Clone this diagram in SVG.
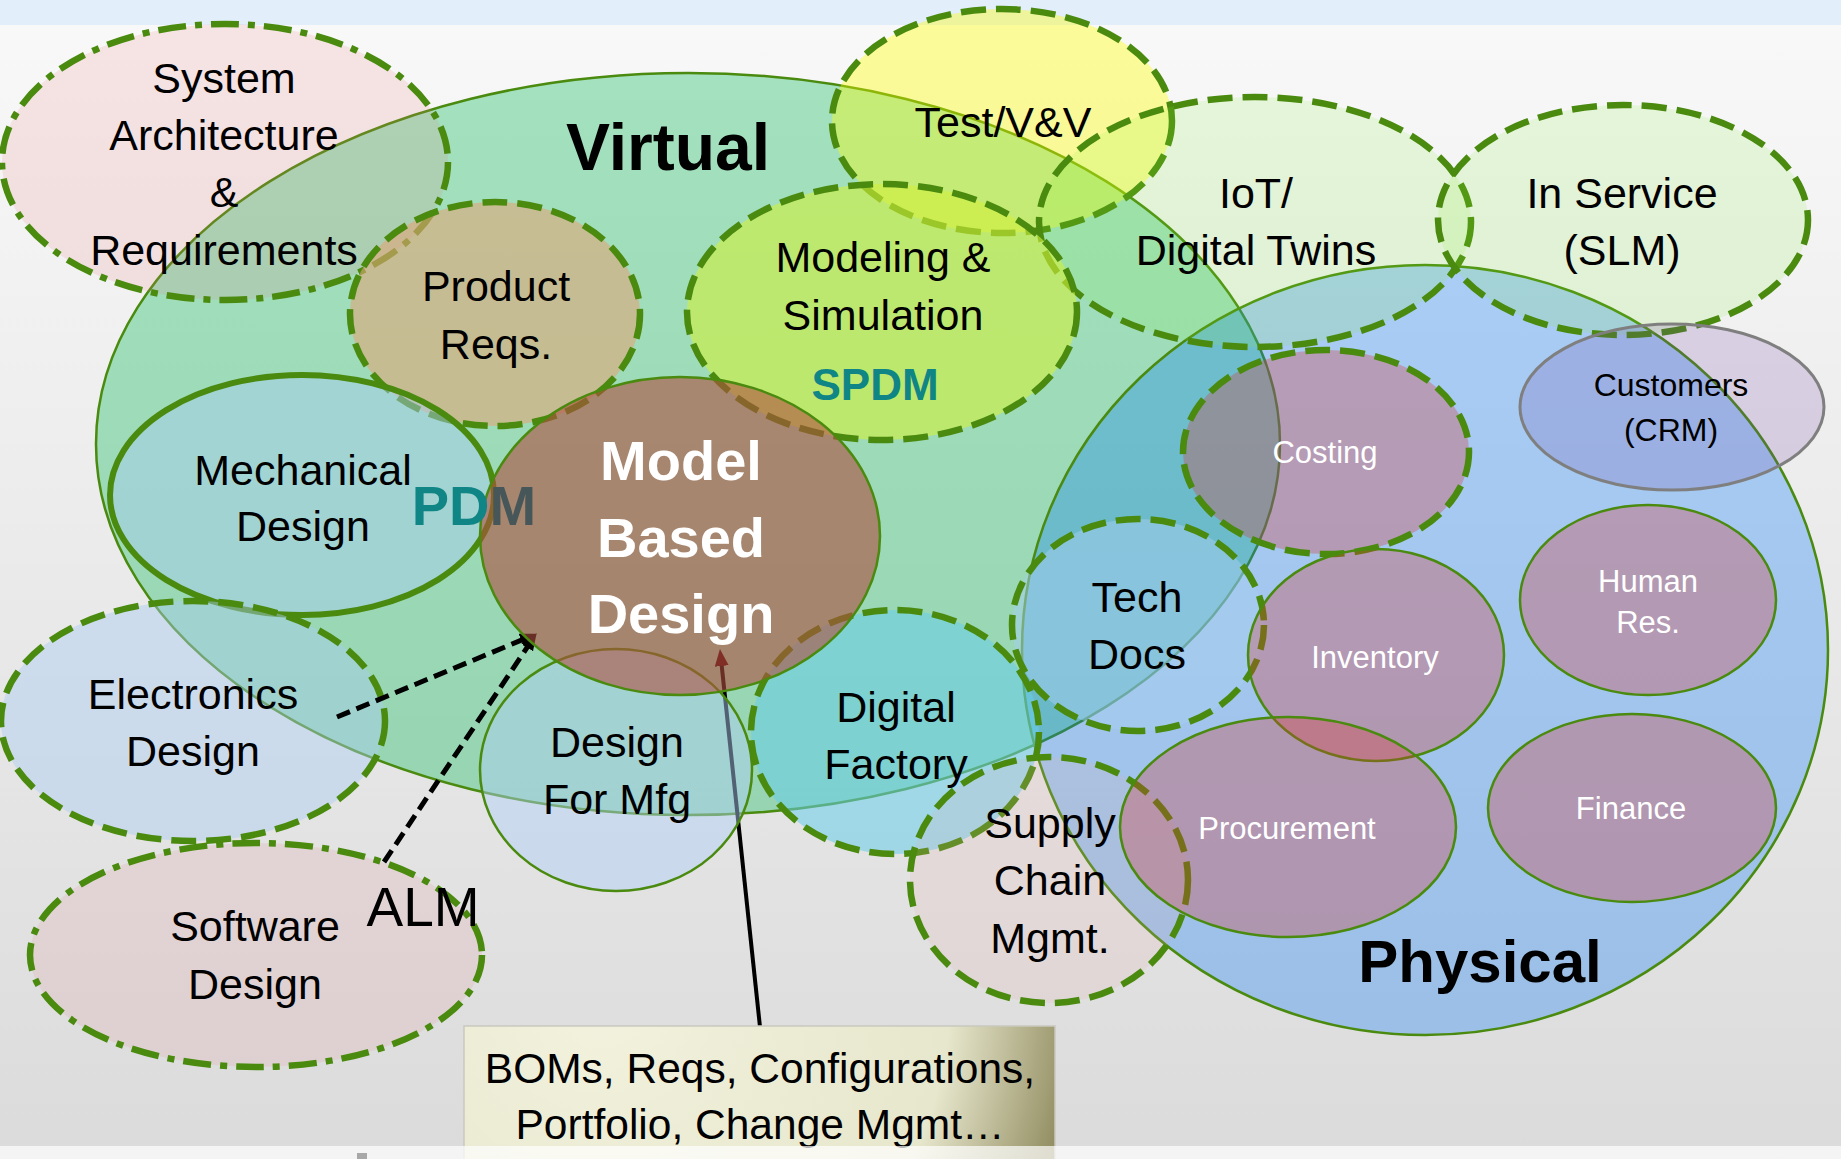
<svg xmlns="http://www.w3.org/2000/svg" width="1841" height="1159" viewBox="0 0 1841 1159">
<defs>
<linearGradient id="bg" x1="0" y1="0" x2="0" y2="1">
<stop offset="0" stop-color="#f9f9f9"/>
<stop offset="1" stop-color="#dbdbdb"/>
</linearGradient>
<radialGradient id="boxg" gradientUnits="userSpaceOnUse" cx="600" cy="1000" r="485">
<stop offset="0" stop-color="#f2f2de"/>
<stop offset="0.72" stop-color="#e7e7cd"/>
<stop offset="1" stop-color="#8e895c"/>
</radialGradient>
<marker id="ah" markerUnits="userSpaceOnUse" markerWidth="18" markerHeight="16" refX="6" refY="7" orient="auto">
<path d="M0,0 L17,7 L0,14 z" fill="#000"/>
</marker>
<marker id="ahr" markerUnits="userSpaceOnUse" markerWidth="18" markerHeight="16" refX="6" refY="7" orient="auto">
<path d="M0,0 L17,7 L0,14 z" fill="#3a0000"/>
</marker>
<style>
.t{font-family:"Liberation Sans",Arial,sans-serif;fill:#000;text-anchor:middle}
.lbl{font-size:43px}
.wl{font-size:31px;fill:#fff}
.b{font-weight:bold}
.dash{stroke:#4a8a0e;stroke-width:6.5;stroke-dasharray:25 10}
.dd{stroke:#4a8a0e;stroke-width:6.5;stroke-dasharray:28 9 7 9}
.sol{stroke:#4a8a0e;stroke-width:2.5}
.pur{fill:rgb(216,59,55);fill-opacity:0.32}
.conn{fill:none;stroke:#000;stroke-width:5;stroke-dasharray:14 7}
</style>
</defs>

<g id="background">
<rect x="0" y="0" width="1841" height="1159" fill="url(#bg)"/>
<rect x="0" y="0" width="1841" height="25" fill="#e2eefa"/>
</g>

<g id="virtual">
<ellipse cx="688" cy="444" rx="592" ry="371" fill="rgb(0,181,82)" fill-opacity="0.34" stroke="#4a8a0e" stroke-width="2.5"/>
</g>
<g id="physical">
<ellipse cx="1425" cy="650" rx="403" ry="385" fill="rgb(0,118,250)" fill-opacity="0.30" stroke="#4a8a0e" stroke-width="2.5"/>
</g>

<g id="system-architecture">
<ellipse cx="225" cy="162" rx="223" ry="138" fill="rgb(236,127,127)" fill-opacity="0.16" class="dd"/>
<text class="t lbl" x="224" y="93">System</text>
<text class="t lbl" x="224" y="150">Architecture</text>
<text class="t lbl" x="224" y="207">&amp;</text>
<text class="t lbl" x="224" y="265">Requirements</text>
</g>

<g id="test-vv">
<ellipse cx="1002" cy="121" rx="170" ry="112" fill="rgb(255,255,0)" fill-opacity="0.38" class="dash"/>
<text class="t lbl" x="1003" y="137">Test/V&amp;V</text>
</g>

<g id="iot">
<ellipse cx="1255" cy="222" rx="216" ry="125" fill="rgb(133,240,53)" fill-opacity="0.15" class="dash"/>
<text class="t lbl" x="1256" y="208">IoT/</text>
<text class="t lbl" x="1256" y="265">Digital Twins</text>
</g>

<g id="in-service">
<ellipse cx="1623" cy="220" rx="185" ry="115" fill="rgb(133,240,53)" fill-opacity="0.15" class="dash"/>
<text class="t lbl" x="1622" y="208">In Service</text>
<text class="t lbl" x="1622" y="265">(SLM)</text>
</g>

<g id="customers">
<ellipse cx="1672" cy="407" rx="152" ry="83" fill="rgb(109,62,171)" fill-opacity="0.19" stroke="#7f7f7f" stroke-width="3"/>
<text class="t" font-size="32" x="1671" y="396">Customers</text>
<text class="t" font-size="32" x="1671" y="441">(CRM)</text>
</g>

<g id="product-reqs">
<ellipse cx="495" cy="314" rx="145" ry="112" fill="rgb(225,167,120)" fill-opacity="0.6" class="dash"/>
<text class="t lbl" x="496" y="301">Product</text>
<text class="t lbl" x="496" y="359">Reqs.</text>
</g>

<g id="modeling-simulation">
<ellipse cx="882" cy="312" rx="195" ry="128" fill="rgb(210,240,60)" fill-opacity="0.6" class="dash"/>
<text class="t lbl" x="883" y="272">Modeling &amp;</text>
<text class="t lbl" x="883" y="330">Simulation</text>
<text class="t b" font-size="44" style="fill:#0f8585" x="875" y="400">SPDM</text>
</g>

<g id="mechanical-design">
<ellipse cx="302" cy="495" rx="192" ry="120" fill="rgb(170,205,244)" fill-opacity="0.46" stroke="#4a8a0e" stroke-width="6"/>
<text class="t lbl" x="303" y="485">Mechanical</text>
<text class="t lbl" x="303" y="541">Design</text>
</g>

<g id="electronics-design">
<ellipse cx="193" cy="721" rx="192" ry="120" fill="rgb(170,205,244)" fill-opacity="0.43" class="dash"/>
<text class="t lbl" x="193" y="709">Electronics</text>
<text class="t lbl" x="193" y="766">Design</text>
</g>

<g id="software-design">
<ellipse cx="256" cy="955" rx="226" ry="112" fill="rgb(225,180,180)" fill-opacity="0.3" class="dd"/>
<text class="t lbl" x="255" y="941">Software</text>
<text class="t lbl" x="255" y="999">Design</text>
</g>

<g id="tech-docs">
<ellipse cx="1138" cy="625" rx="126" ry="106" fill="rgb(165,205,240)" fill-opacity="0.5" class="dash"/>
<text class="t lbl" x="1137" y="612">Tech</text>
<text class="t lbl" x="1137" y="669">Docs</text>
</g>

<g id="digital-factory">
<ellipse cx="895" cy="732" rx="144" ry="122" fill="rgb(104,205,233)" fill-opacity="0.55" class="dash"/>
<text class="t lbl" x="896" y="722">Digital</text>
<text class="t lbl" x="896" y="779">Factory</text>
</g>

<g id="supply-chain">
<ellipse cx="1049" cy="880" rx="139" ry="123" fill="rgb(232,173,173)" fill-opacity="0.17" class="dash"/>
<text class="t lbl" x="1050" y="838">Supply</text>
<text class="t lbl" x="1050" y="895">Chain</text>
<text class="t lbl" x="1050" y="953">Mgmt.</text>
</g>

<g id="connectors">
<line class="conn" x1="337" y1="717" x2="526.8" y2="637.9" marker-end="url(#ah)"/>
<line class="conn" x1="384" y1="862" x2="530.5" y2="642.3" marker-end="url(#ah)"/>
<line x1="760" y1="1027" x2="721.1" y2="660" stroke="#000" stroke-width="4" marker-end="url(#ahr)"/>
</g>

<g id="design-for-mfg">
<ellipse cx="616" cy="770" rx="136" ry="121" fill="rgb(175,207,245)" fill-opacity="0.47" class="sol"/>
<text class="t lbl" x="617" y="757">Design</text>
<text class="t lbl" x="617" y="814">For Mfg</text>
</g>

<g id="model-based-design">
<ellipse cx="680" cy="536" rx="200" ry="159" fill="rgb(175,78,63)" fill-opacity="0.6" class="sol"/>
<text class="t b" font-size="56" style="fill:#fff" x="681" y="480">Model</text>
<text class="t b" font-size="56" style="fill:#fff" x="681" y="557">Based</text>
<text class="t b" font-size="56" style="fill:#fff" x="681" y="633">Design</text>
</g>

<g id="pdm-label">
<text class="t b" font-size="56" x="474" y="525"><tspan style="fill:#0f8585">PD</tspan><tspan style="fill:#475759">M</tspan></text>
</g>

<g id="costing">
<ellipse cx="1326" cy="452" rx="143" ry="102" class="pur dash"/>
<text class="t wl" x="1325" y="463">Costing</text>
</g>
<g id="inventory">
<ellipse cx="1376" cy="655" rx="128" ry="106" class="pur sol"/>
<text class="t wl" x="1375" y="668">Inventory</text>
</g>
<g id="human-res">
<ellipse cx="1648" cy="600" rx="128" ry="95" class="pur sol"/>
<text class="t wl" x="1648" y="592">Human</text>
<text class="t wl" x="1648" y="633">Res.</text>
</g>
<g id="procurement">
<ellipse cx="1288" cy="827" rx="168" ry="110" class="pur sol"/>
<text class="t wl" x="1287" y="839">Procurement</text>
</g>
<g id="finance">
<ellipse cx="1632" cy="808" rx="144" ry="94" class="pur sol"/>
<text class="t wl" x="1631" y="819">Finance</text>
</g>

<g id="boms-box">
<rect x="464" y="1026" width="591" height="140" fill="url(#boxg)" stroke="#c9c9c0" stroke-width="1.5"/>
<text class="t" font-size="42.5" x="760" y="1083">BOMs, Reqs, Configurations,</text>
<text class="t" font-size="42.5" x="760" y="1139">Portfolio, Change Mgmt…</text>
</g>

<g id="area-labels">
<text class="t b" font-size="66" x="668" y="170">Virtual</text>
<text class="t b" font-size="60" x="1480" y="982">Physical</text>
<text class="t" font-size="55" x="423" y="926">ALM</text>
</g>

<g id="bottom-strip">
<rect x="0" y="1146" width="1841" height="13" fill="#ffffff" fill-opacity="0.7"/>
<rect x="357" y="1153" width="10" height="6" fill="#a8a8a8"/>
</g>
</svg>
